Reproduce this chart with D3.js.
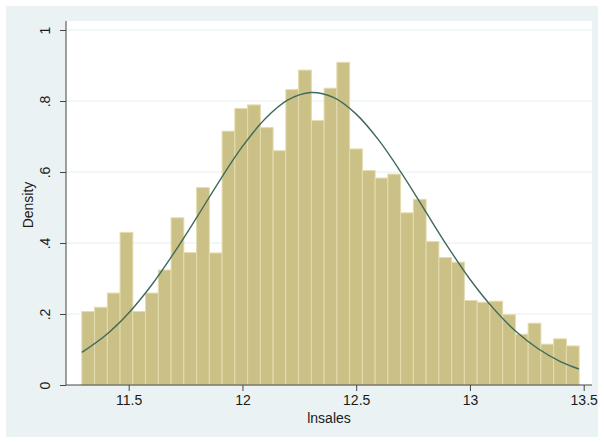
<!DOCTYPE html>
<html>
<head>
<meta charset="utf-8">
<script src="https://cdn.jsdelivr.net/npm/d3@7"></script>
<style>
  body { margin: 0; background: #ffffff; }
  text { font-family: "Liberation Sans", Arial, sans-serif; fill: #1a1a1a; }
</style>
</head>
<body>
<script>
// histogram of lnsales: bins start at binStart, each binWidth wide
var binStart = 11.294;
var binWidth = 0.05605;
var densities = [0.207, 0.219, 0.259, 0.430, 0.207, 0.259, 0.324, 0.471, 0.373, 0.556,
                 0.372, 0.715, 0.779, 0.789, 0.725, 0.660, 0.832, 0.887, 0.745, 0.836,
                 0.909, 0.665, 0.604, 0.583, 0.594, 0.485, 0.523, 0.404, 0.359, 0.346,
                 0.238, 0.233, 0.236, 0.198, 0.143, 0.174, 0.115, 0.130, 0.110];

// normal density overlay
var curveX = [11.294, 11.4, 11.5, 11.6, 11.7, 11.8, 11.9, 12.0, 12.1, 12.2, 12.3, 12.4,
              12.5, 12.6, 12.7, 12.8, 12.9, 13.0, 13.1, 13.2, 13.3, 13.4, 13.479];
var curveY = [0.092, 0.141, 0.203, 0.281, 0.373, 0.473, 0.576, 0.672, 0.750, 0.803, 0.824, 0.810,
              0.763, 0.689, 0.596, 0.494, 0.392, 0.298, 0.218, 0.152, 0.102, 0.065, 0.045];

var xTicks = [11.5, 12, 12.5, 13, 13.5];
var yTicks = [0, 0.2, 0.4, 0.6, 0.8, 1];

main();

function main() {
  setupCanvas();
  setupScales();
  drawBackground();
  drawGrid();
  drawBars();
  drawCurve();
  drawAxes();
  addLabels();
}

function setupCanvas() {
  width = 604;
  height = 442;
  plot = { left: 66, right: 592, top: 21, bottom: 385 };
  svg = d3.select("body").append("svg")
    .attr("width", width)
    .attr("height", height);
}

function setupScales() {
  x = d3.scaleLinear().domain([11.5, 13.5]).range([128.7, 583.7]);
  y = d3.scaleLinear().domain([0, 1]).range([385, 30]);
}

function drawBackground() {
  svg.append("rect")
    .attr("x", 6).attr("y", 6)
    .attr("width", 592).attr("height", 431)
    .attr("fill", "#eaf2f3");
  svg.append("rect")
    .attr("x", plot.left).attr("y", plot.top)
    .attr("width", plot.right - plot.left).attr("height", plot.bottom - plot.top)
    .attr("fill", "#ffffff");
}

function drawGrid() {
  svg.append("g")
    .selectAll("line")
    .data(yTicks.slice(1))
    .enter()
    .append("line")
    .attr("x1", plot.left).attr("x2", plot.right)
    .attr("y1", function (d) { return y(d); })
    .attr("y2", function (d) { return y(d); })
    .attr("stroke", "#e6eef0")
    .attr("stroke-width", 1);
}

function drawBars() {
  svg.append("g")
    .selectAll("rect")
    .data(densities)
    .enter()
    .append("rect")
    .attr("x", function (d, i) { return x(binStart + i * binWidth); })
    .attr("y", function (d) { return y(d); })
    .attr("width", function (d, i) { return x(binStart + (i + 1) * binWidth) - x(binStart + i * binWidth); })
    .attr("height", function (d) { return y(0) - y(d); })
    .attr("fill", "#cbc086")
    .attr("stroke", "#e4dcae")
    .attr("stroke-width", 1);
}

function drawCurve() {
  var points = curveX.map(function (d, i) { return [d, curveY[i]]; });
  var line = d3.line()
    .x(function (d) { return x(d[0]); })
    .y(function (d) { return y(d[1]); })
    .curve(d3.curveCatmullRom);
  svg.append("path")
    .datum(points)
    .attr("d", line)
    .attr("fill", "none")
    .attr("stroke", "#3e6a5c")
    .attr("stroke-width", 1.4);
}

function drawAxes() {
  // X axis
  var xAxis = svg.append("g")
    .attr("transform", "translate(0," + plot.bottom + ")")
    .call(d3.axisBottom(x).tickValues(xTicks).tickSize(6).tickPadding(4)
      .tickFormat(function (d) { return d3.format("")(d); }));
  xAxis.select(".domain").remove();
  xAxis.append("line")
    .attr("x1", plot.left).attr("x2", plot.right)
    .attr("stroke", "#444");
  xAxis.selectAll(".tick line").attr("stroke", "#444");
  xAxis.selectAll(".tick text")
    .style("font-size", "14px")
    .style("font-family", "Liberation Sans, Arial, sans-serif")
    .attr("fill", "#1a1a1a");

  // Y axis, labels turned like Stata does
  var yAxis = svg.append("g")
    .attr("transform", "translate(" + plot.left + ",0)")
    .call(d3.axisLeft(y).tickValues(yTicks).tickSize(6)
      .tickFormat(function (d) { return d === 0 ? "0" : d === 1 ? "1" : d3.format(".1f")(d).replace("0.", "."); }));
  yAxis.select(".domain").remove();
  yAxis.append("line")
    .attr("y1", plot.top).attr("y2", plot.bottom)
    .attr("stroke", "#444");
  yAxis.selectAll(".tick line").attr("stroke", "#444");
  yAxis.selectAll(".tick text")
    .attr("x", null).attr("dy", null)
    .attr("text-anchor", "middle")
    .attr("transform", "translate(-21,0) rotate(-90)")
    .attr("dy", "0.35em")
    .style("font-size", "14px")
    .style("font-family", "Liberation Sans, Arial, sans-serif")
    .attr("fill", "#1a1a1a");
}

function addLabels() {
  svg.append("text")
    .attr("x", (plot.left + plot.right) / 2)
    .attr("y", 423)
    .attr("text-anchor", "middle")
    .style("font-size", "14px")
    .text("lnsales");
  svg.append("text")
    .attr("transform", "translate(33,205) rotate(-90)")
    .attr("text-anchor", "middle")
    .style("font-size", "14px")
    .text("Density");
}
</script>
</body>
</html>
